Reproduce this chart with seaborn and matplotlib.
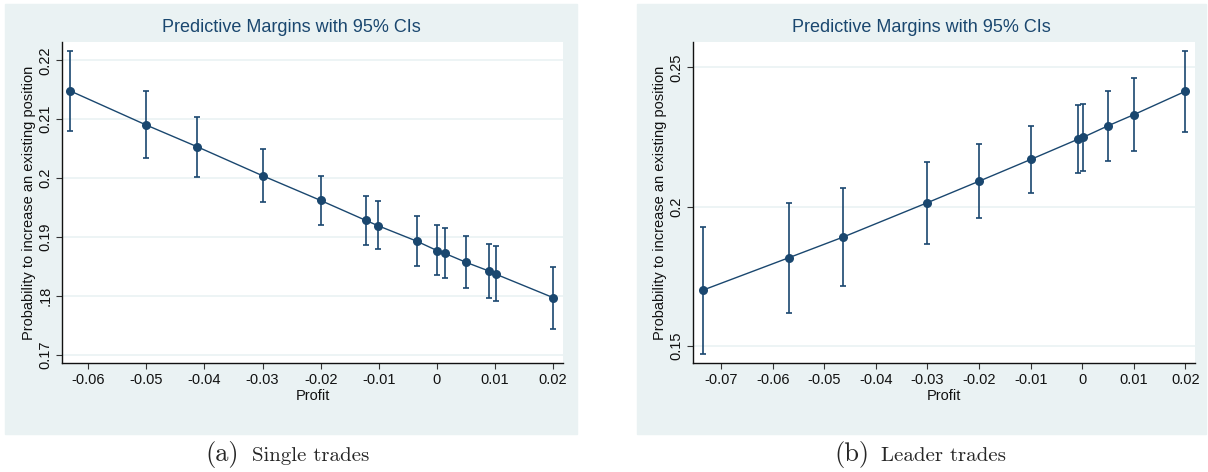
import numpy as np
import pandas as pd
import matplotlib
matplotlib.use("Agg")
import matplotlib.pyplot as plt
from matplotlib.patches import Rectangle
import seaborn as sns

# Data
single_profit = [-0.0631, -0.0500, -0.0412, -0.0300, -0.0200, -0.0122, -0.0101,
                 -0.0035, 0.0000, 0.0014, 0.0050, 0.0090, 0.0101, 0.0200]
single_margin = [0.2148, 0.2090, 0.2053, 0.2004, 0.1962, 0.1928, 0.1919,
                 0.1893, 0.1877, 0.1872, 0.1857, 0.1842, 0.1837, 0.1797]
single_lo = [0.2080, 0.2034, 0.2002, 0.1960, 0.1920, 0.1887, 0.1879,
             0.1851, 0.1835, 0.1830, 0.1814, 0.1796, 0.1791, 0.1744]
single_hi = [0.2216, 0.2148, 0.2103, 0.2049, 0.2003, 0.1970, 0.1961,
             0.1935, 0.1921, 0.1916, 0.1902, 0.1888, 0.1884, 0.1849]

leader_profit = [-0.0735, -0.0569, -0.0464, -0.0300, -0.0200, -0.0100,
                 -0.0008, 0.0002, 0.0050, 0.0100, 0.0200]
leader_margin = [0.1700, 0.1816, 0.1890, 0.2014, 0.2091, 0.2169,
                 0.2242, 0.2249, 0.2290, 0.2330, 0.2414]
leader_lo = [0.1470, 0.1618, 0.1715, 0.1867, 0.1958, 0.2047,
             0.2122, 0.2127, 0.2165, 0.2201, 0.2269]
leader_hi = [0.1928, 0.2012, 0.2067, 0.2161, 0.2223, 0.2291,
             0.2364, 0.2370, 0.2416, 0.2460, 0.2557]

single_xticks = [-0.06, -0.05, -0.04, -0.03, -0.02, -0.01, 0, 0.01, 0.02]
single_xlabels = ["-0.06", "-0.05", "-0.04", "-0.03", "-0.02", "-0.01", "0", "0.01", "0.02"]
single_yticks = [0.17, 0.18, 0.19, 0.20, 0.21, 0.22]
single_ylabels = ["0.17", ".18", "0.19", "0.2", "0.21", "0.22"]

leader_xticks = [-0.07, -0.06, -0.05, -0.04, -0.03, -0.02, -0.01, 0, 0.01, 0.02]
leader_xlabels = ["-0.07", "-0.06", "-0.05", "-0.04", "-0.03", "-0.02", "-0.01", "0", "0.01", "0.02"]
leader_yticks = [0.15, 0.20, 0.25]
leader_ylabels = ["0.15", "0.2", "0.25"]

title = "Predictive Margins with 95% CIs"
xlab = "Profit"
ylab = "Probability to increase an existing position"

navy = "#1A476F"
bg = "#EAF2F3"

sns.set_theme(style="white")
plt.rcParams["font.family"] = ["Liberation Sans", "DejaVu Sans"]

fig = plt.figure(figsize=(12.08, 4.72), dpi=100)
W, H = 1208, 472

# graph region backgrounds (Stata s2color)
for x0, x1 in [(4.5, 577), (637, 1206)]:
    fig.patches.append(Rectangle((x0 / W, 1 - 434 / H), (x1 - x0) / W, 430 / H,
                                 transform=fig.transFigure, color=bg, zorder=-5))

ax1 = fig.add_axes([62 / W, 1 - 363 / H, 501 / W, 321 / H])
ax2 = fig.add_axes([693.3 / W, 1 - 363 / H, 501.4 / W, 321 / H])

panels = [
    (ax1, single_profit, single_margin, single_lo, single_hi,
     single_xticks, single_xlabels, single_yticks, single_ylabels,
     (-0.0645, 0.0217), (0.1686, 0.2231), 291),
    (ax2, leader_profit, leader_margin, leader_lo, leader_hi,
     leader_xticks, leader_xlabels, leader_yticks, leader_ylabels,
     (-0.0754, 0.0218), (0.1438, 0.2591), 921.5),
]

for ax, px, pm, plo, phi, xt, xl, yt, yl, xlim, ylim, tx in panels:
    ax.set_zorder(2)
    df = pd.DataFrame({"profit": px, "margin": pm, "lo": plo, "hi": phi})
    ax.set_facecolor("white")
    for y in yt:
        ax.axhline(y, color=bg, lw=1.2, zorder=0)
    ax.errorbar(df["profit"], df["margin"],
                yerr=[df["margin"] - df["lo"], df["hi"] - df["margin"]],
                fmt="none", ecolor=navy, elinewidth=1.2, capsize=2.5,
                capthick=1.2, zorder=2)
    sns.lineplot(data=df, x="profit", y="margin", ax=ax, color=navy, lw=1,
                 marker="o", markersize=6.5, markeredgewidth=0, zorder=3)
    ax.set_xlim(*xlim)
    ax.set_ylim(*ylim)
    ax.set_xticks(xt)
    ax.set_xticklabels(xl)
    ax.set_yticks(yt)
    ax.set_yticklabels(yl, rotation=90, va="center")
    ax.tick_params(axis="both", which="major", length=4, width=0.8,
                   color="#333333", labelsize=10.5, labelcolor="#111111",
                   direction="out", bottom=True, left=True, pad=3)
    for s in ["top", "right"]:
        ax.spines[s].set_visible(False)
    for s in ["left", "bottom"]:
        ax.spines[s].set_color("#111111")
        ax.spines[s].set_linewidth(1)
    ax.grid(False)
    ax.set_xlabel(xlab, fontsize=10.5, color="#111111", labelpad=2)
    ax.set_ylabel(ylab, fontsize=10.5, color="#111111", labelpad=1.5)
    fig.text(tx / W, 1 - 28 / H, title, ha="center", va="center",
             fontsize=13, color=navy)

# subfigure captions
cap_font = ["cmr10", "DejaVu Serif"]
fig.text(205 / W, 1 - 461 / H, "(a)", family=cap_font, fontsize=19,
         ha="left", va="baseline")
fig.text(252 / W, 1 - 461 / H, "Single trades", family=cap_font, fontsize=15,
         ha="left", va="baseline")
fig.text(834 / W, 1 - 461 / H, "(b)", family=cap_font, fontsize=19,
         ha="left", va="baseline")
fig.text(881 / W, 1 - 461 / H, "Leader trades", family=cap_font, fontsize=15,
         ha="left", va="baseline")

fig.savefig("out.png", dpi=100, facecolor="white")
